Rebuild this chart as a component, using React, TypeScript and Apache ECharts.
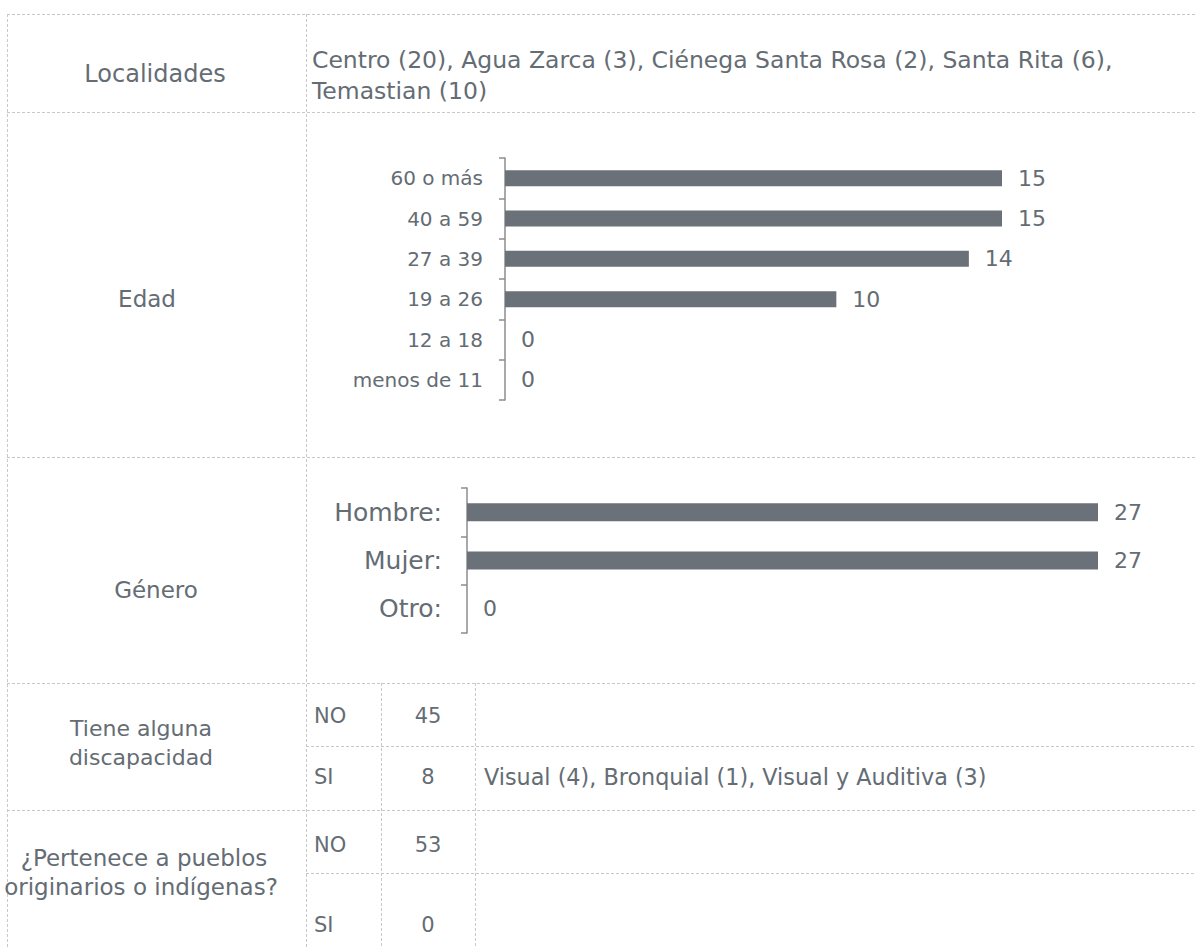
import React, { useEffect, useRef } from "react";
import * as echarts from "echarts";

const localidadesLabel = "Localidades";
const localidadesLines = [
  "Centro (20), Agua Zarca (3), Ciénega Santa Rosa (2), Santa Rita (6),",
  "Temastian (10)",
];
const edadLabel = "Edad";
const edadCategories = ["60 o más", "40 a 59", "27 a 39", "19 a 26", "12 a 18", "menos de 11"];
const edadValues = [15, 15, 14, 10, 0, 0];
const generoLabel = "Género";
const generoCategories = ["Hombre:", "Mujer:", "Otro:"];
const generoValues = [27, 27, 0];
const discapacidadLabel = ["Tiene alguna", "discapacidad"];
const discapacidadOptions = ["NO", "SI"];
const discapacidadValues = [45, 8];
const discapacidadDetail = ["", "Visual (4), Bronquial (1), Visual y Auditiva (3)"];
const pueblosLabel = ["¿Pertenece a pueblos", "originarios o indígenas?"];
const pueblosOptions = ["NO", "SI"];
const pueblosValues = [53, 0];

const FONT = "DejaVu Sans";
const TXT = "#646c74";
const BAR = "#6b7178";
const AXIS = "#8d8d8d";
const GRID = "#c8c8c8";

export default function App() {
  const ref = useRef<HTMLDivElement>(null);
  useEffect(() => {
    if (!ref.current) return;
    const chart = echarts.init(ref.current, undefined, { renderer: "svg" });

    const W = 1196;
    const H = 947;
    const hl = (y: number, x1: number, x2: number) => ({
      type: "line",
      shape: { x1, y1: y + 0.5, x2, y2: y + 0.5 },
      style: { stroke: GRID, lineWidth: 1, lineDash: [3, 2] },
      silent: true,
    });
    const vl = (x: number, y1: number, y2: number) => ({
      type: "line",
      shape: { x1: x + 0.5, y1, x2: x + 0.5, y2 },
      style: { stroke: GRID, lineWidth: 1, lineDash: [3, 2] },
      silent: true,
    });
    const txt = (text: string, x: number, y: number, align: string, size = 23) => ({
      type: "text",
      x,
      y,
      style: {
        text,
        fill: TXT,
        font: `${size}px "${FONT}"`,
        textAlign: align,
        textVerticalAlign: "middle",
      },
      silent: true,
    });

    const subRowsY = [
      [716, 777],
      [845, 925],
    ];
    const graphics: any[] = [
      hl(14, 7, W),
      vl(7, 14, H),
      vl(306, 14, H),
      hl(112, 7, W),
      hl(457, 7, W),
      hl(683, 7, W),
      hl(810, 7, W),
      hl(746, 306, W),
      hl(873, 306, W),
      vl(381, 683, H),
      vl(475, 683, H),
      txt(localidadesLabel, 155, 74, "center", 24),
      txt(localidadesLines[0], 312, 60, "left", 23.5),
      txt(localidadesLines[1], 312, 91, "left", 23.5),
      txt(edadLabel, 147, 299, "center"),
      txt(generoLabel, 156, 590, "center"),
      txt(discapacidadLabel[0], 141, 728, "center", 22),
      txt(discapacidadLabel[1], 141, 757, "center", 22),
      txt(pueblosLabel[0], 144, 858, "center"),
      txt(pueblosLabel[1], 141, 887, "center"),
    ];
    const addSub = (ys: number[], opts: string[], vals: number[], det: string[]) => {
      opts.forEach((o, i) => {
        const y = ys[i];
        graphics.push(txt(o, 314, y, "left", 21));
        graphics.push(txt(String(vals[i]), 428, y, "center", 21));
        if (det[i]) graphics.push(txt(det[i], 484, y, "left", 22.3));
      });
    };
    addSub(subRowsY[0], discapacidadOptions, discapacidadValues, discapacidadDetail);
    addSub(subRowsY[1], pueblosOptions, pueblosValues, ["", ""]);

    const yAxisBase = (data: string[], grid: number, size: number, margin: number) => ({
      type: "category",
      gridIndex: grid,
      data,
      inverse: true,
      axisLine: { show: true, lineStyle: { color: AXIS, width: 1.5 } },
      axisTick: { show: true, length: 6, lineStyle: { color: AXIS, width: 1.5 } },
      axisLabel: { color: TXT, fontSize: size, fontFamily: FONT, margin },
      splitLine: { show: false },
    });
    const xAxisBase = (max: number, grid: number) => ({
      type: "value",
      gridIndex: grid,
      min: 0,
      max,
      show: false,
      splitLine: { show: false },
    });

    chart.setOption({
      animation: false,
      textStyle: { fontFamily: FONT },
      grid: [
        { left: 505, top: 158, width: 497, height: 242 },
        { left: 467, top: 488, width: 631, height: 145 },
      ],
      xAxis: [xAxisBase(15, 0), xAxisBase(27, 1)],
      yAxis: [yAxisBase(edadCategories, 0, 20, 22), yAxisBase(generoCategories, 1, 25, 25)],
      series: [
        {
          type: "bar",
          xAxisIndex: 0,
          yAxisIndex: 0,
          data: edadValues,
          barWidth: 16,
          itemStyle: { color: BAR },
          label: { show: true, position: "right", distance: 16, color: TXT, fontSize: 22, fontFamily: FONT },
        },
        {
          type: "bar",
          xAxisIndex: 1,
          yAxisIndex: 1,
          data: generoValues,
          barWidth: 18,
          itemStyle: { color: BAR },
          label: { show: true, position: "right", distance: 16, color: TXT, fontSize: 22, fontFamily: FONT },
        },
      ],
      graphic: graphics,
    });
    return () => chart.dispose();
  }, []);
  return (
    <div
      ref={ref}
      style={{ position: "fixed", left: 0, top: 0, width: 1196, height: 947, background: "#fff" }}
    />
  );
}
